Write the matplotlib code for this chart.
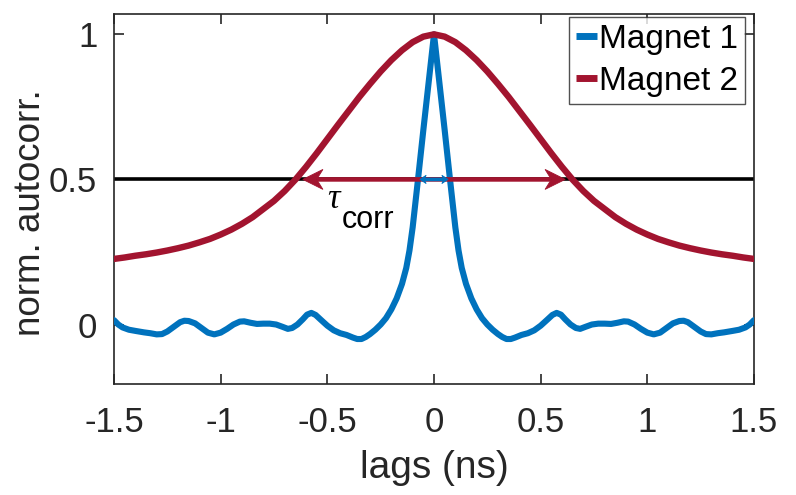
import matplotlib
matplotlib.use("Agg")
import matplotlib.pyplot as plt
from matplotlib.patches import Polygon, FancyArrowPatch
from matplotlib.transforms import Affine2D, ScaledTranslation

# ---- data -------------------------------------------------------------
lags_m1 = [-1.500, -1.480, -1.460, -1.430, -1.400, -1.360, -1.330, -1.300, -1.275, -1.250,
           -1.220, -1.190, -1.170, -1.150, -1.120, -1.090, -1.060, -1.030, -1.000, -0.970,
           -0.940, -0.910, -0.890, -0.860, -0.830, -0.800, -0.770, -0.740, -0.710, -0.685,
           -0.665, -0.640, -0.615, -0.595, -0.575, -0.555, -0.530, -0.500, -0.470, -0.440,
           -0.410, -0.380, -0.360, -0.340, -0.320, -0.300, -0.275, -0.250, -0.225, -0.200,
           -0.175, -0.150, -0.130, -0.115, -0.100, -0.075, -0.050, -0.025,
           0.000,
           0.025, 0.050, 0.075, 0.100, 0.115, 0.130, 0.150, 0.175, 0.200, 0.225,
           0.250, 0.275, 0.300, 0.320, 0.340, 0.360, 0.380, 0.410, 0.440, 0.470,
           0.500, 0.530, 0.555, 0.575, 0.595, 0.615, 0.640, 0.665, 0.685, 0.710,
           0.740, 0.770, 0.800, 0.830, 0.860, 0.890, 0.910, 0.940, 0.970, 1.000,
           1.030, 1.060, 1.090, 1.120, 1.150, 1.170, 1.190, 1.220, 1.250, 1.275,
           1.300, 1.330, 1.360, 1.400, 1.430, 1.460, 1.480, 1.500]
acorr_m1 = [0.015, 0.000, -0.010, -0.018, -0.022, -0.027, -0.030, -0.034, -0.033, -0.024,
            -0.008, 0.008, 0.013, 0.012, 0.004, -0.012, -0.028, -0.034, -0.028, -0.015,
            0.000, 0.010, 0.011, 0.006, 0.002, 0.003, 0.003, 0.000, -0.008, -0.015,
            -0.012, 0.000, 0.018, 0.034, 0.040, 0.033, 0.016, -0.004, -0.020, -0.030,
            -0.036, -0.045, -0.050, -0.050, -0.043, -0.033, -0.018, 0.000, 0.022, 0.052,
            0.090, 0.140, 0.195, 0.255, 0.335, 0.500, 0.670, 0.835,
            1.000,
            0.835, 0.670, 0.500, 0.335, 0.255, 0.195, 0.140, 0.090, 0.052, 0.022,
            0.000, -0.018, -0.033, -0.043, -0.050, -0.050, -0.045, -0.036, -0.030, -0.020,
            -0.004, 0.016, 0.033, 0.040, 0.034, 0.018, 0.000, -0.012, -0.015, -0.008,
            0.000, 0.003, 0.003, 0.002, 0.006, 0.011, 0.010, 0.000, -0.015, -0.028,
            -0.034, -0.028, -0.012, 0.004, 0.012, 0.013, 0.008, -0.008, -0.024, -0.033,
            -0.034, -0.030, -0.027, -0.022, -0.018, -0.010, 0.000, 0.015]

lags_m2 = [-1.50, -1.45, -1.40, -1.35, -1.30, -1.25, -1.20, -1.15, -1.10, -1.05,
           -1.00, -0.95, -0.90, -0.85, -0.80, -0.75, -0.70, -0.65, -0.60, -0.55,
           -0.50, -0.45, -0.40, -0.35, -0.30, -0.25, -0.20, -0.15, -0.10, -0.05,
           0.00,
           0.05, 0.10, 0.15, 0.20, 0.25, 0.30, 0.35, 0.40, 0.45, 0.50,
           0.55, 0.60, 0.65, 0.70, 0.75, 0.80, 0.85, 0.90, 0.95, 1.00,
           1.05, 1.10, 1.15, 1.20, 1.25, 1.30, 1.35, 1.40, 1.45, 1.50]
acorr_m2 = [0.226, 0.231, 0.237, 0.242, 0.248, 0.255, 0.263, 0.272, 0.283, 0.295,
            0.310, 0.327, 0.347, 0.370, 0.398, 0.426, 0.460, 0.499, 0.543, 0.590,
            0.639, 0.688, 0.736, 0.784, 0.829, 0.872, 0.911, 0.945, 0.973, 0.992,
            1.000,
            0.992, 0.973, 0.945, 0.911, 0.872, 0.829, 0.784, 0.736, 0.688, 0.639,
            0.590, 0.543, 0.499, 0.460, 0.426, 0.398, 0.370, 0.347, 0.327, 0.310,
            0.295, 0.283, 0.272, 0.263, 0.255, 0.248, 0.242, 0.237, 0.231, 0.226]

half_level = 0.5
arrow_m1 = 0.066   # half span of the magnet 1 width arrow (ns)
arrow_m2 = 0.615   # half span of the magnet 2 width arrow (ns)

xticks = [-1.5, -1, -0.5, 0, 0.5, 1, 1.5]
xticklabels = ["-1.5", "-1", "-0.5", "0", "0.5", "1", "1.5"]
yticks = [0, 0.5, 1]
yticklabels = ["0", "0.5", "1"]

BLUE = "#0072BD"
RED = "#A2142F"
AX = "#262626"

plt.rcParams["font.family"] = ["Liberation Sans", "DejaVu Sans"]
plt.rcParams["mathtext.fontset"] = "custom"
plt.rcParams["mathtext.rm"] = "Liberation Sans"
plt.rcParams["mathtext.it"] = "Liberation Serif:italic"

fig = plt.figure(figsize=(7.96, 4.95), dpi=100)
ax = fig.add_axes([114 / 796, 1 - 384 / 495, 640 / 796, 370 / 495])
ax.set_xlim(-1.5, 1.5)
ax.set_ylim(-0.205, 1.07)

ax.plot(lags_m1, acorr_m1, color=BLUE, lw=4.4, solid_capstyle="round",
        solid_joinstyle="round", label="Magnet 1", zorder=3)
ax.plot(lags_m2, acorr_m2, color=RED, lw=4.6, solid_capstyle="round",
        solid_joinstyle="round", label="Magnet 2", zorder=3)

# half-maximum reference line
ax.plot([xticks[0], xticks[-1]], [half_level, half_level], color="black",
        lw=2.6, solid_capstyle="butt", zorder=2)


def double_arrow(half, y, color, lw, head_len, head_w, notch, z):
    """Horizontal double arrow with notched heads (sizes in points)."""
    shaft = FancyArrowPatch((-half, y), (half, y), arrowstyle="-", color=color,
                            lw=lw, shrinkA=notch, shrinkB=notch,
                            transform=ax.transData, zorder=z, capstyle="butt")
    ax.add_patch(shaft)
    for xt, sgn in ((-half, 1), (half, -1)):
        pts = [(0, 0), (sgn * head_len, head_w), (sgn * notch, 0),
               (sgn * head_len, -head_w)]
        tr = (Affine2D().scale(1 / 72.0) + fig.dpi_scale_trans
              + ScaledTranslation(xt, y, ax.transData))
        head = Polygon(pts, closed=True, transform=tr, facecolor=color,
                       edgecolor=color, lw=0.6, zorder=z, clip_on=False)
        ax.add_patch(head)


double_arrow(arrow_m2, half_level, RED, 3.3, 14.5, 7.2, 10.0, 4)
double_arrow(arrow_m1, half_level, BLUE, 2.6, 4.5, 3.0, 3.0, 5)

# tau_corr annotation
ax.text(-0.502, 0.403, r"$\tau$", fontsize=25, color="black",
        ha="left", va="baseline", zorder=6)
ax.text(-0.431, 0.334, "corr", fontsize=22, color="black",
        ha="left", va="baseline", zorder=6)

ax.set_xticks(xticks)
ax.set_xticklabels(xticklabels)
ax.set_yticks(yticks)
ax.set_yticklabels(yticklabels)
ax.tick_params(direction="in", length=7, width=1.2, top=True, right=True,
               labelsize=25, colors=AX)
ax.tick_params(axis="x", pad=16)
ax.tick_params(axis="y", pad=12)
for s in ax.spines.values():
    s.set_linewidth(1.2)
    s.set_color(AX)

ax.set_xlabel("lags (ns)", fontsize=28, color=AX, labelpad=8)
ax.set_ylabel("norm. autocorr.", fontsize=26.5, color=AX)
ax.yaxis.set_label_coords(-0.103, 0.462)

leg = ax.legend(loc="upper right", bbox_to_anchor=(0.986, 0.992), fontsize=24,
                frameon=True, fancybox=False, edgecolor=AX, handlelength=0.62,
                handletextpad=0.08, borderpad=0.2, labelspacing=0.34,
                borderaxespad=0.0)
leg.get_frame().set_linewidth(1.0)
for h in leg.get_lines():
    h.set_linewidth(5)
    h.set_solid_capstyle("butt")

fig.savefig("out.png", dpi=100)
